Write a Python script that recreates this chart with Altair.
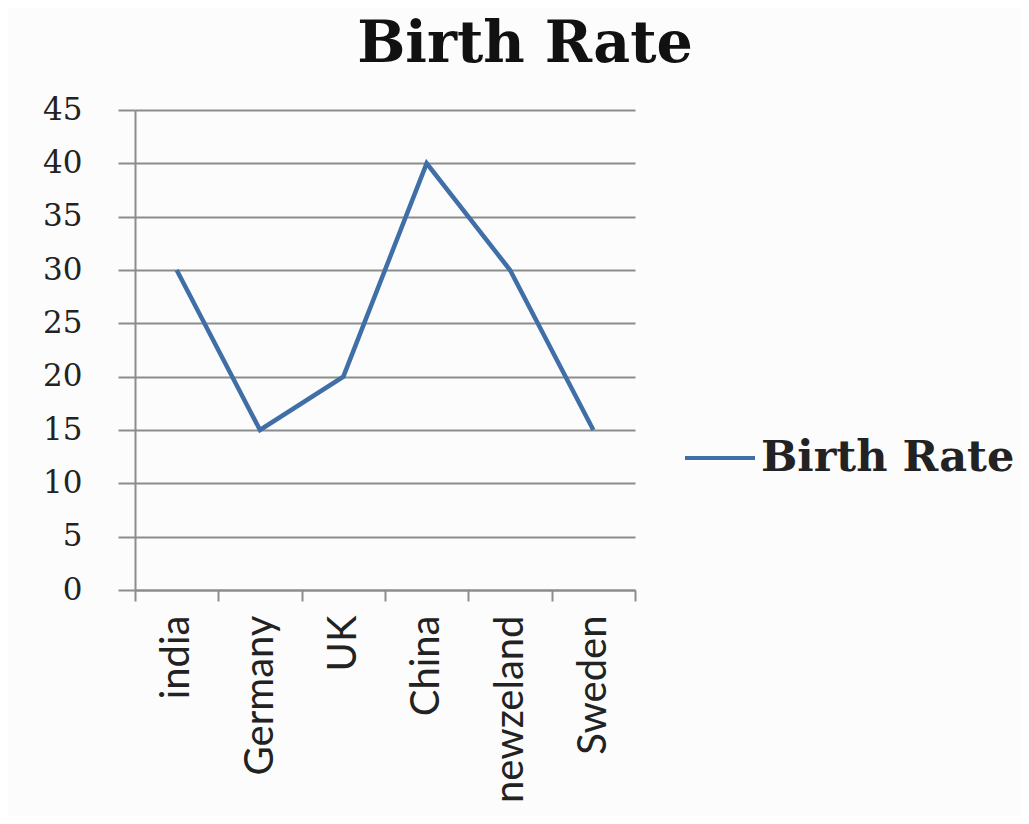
import altair as alt
import pandas as pd

countries = ["india", "Germany", "UK", "China", "newzeland", "Sweden"]
birth_rate = [30, 15, 20, 40, 30, 15]
series = ["Birth Rate"] * len(countries)
y_ticks = [0, 5, 10, 15, 20, 25, 30, 35, 40, 45]

df = pd.DataFrame({"country": countries, "rate": birth_rate, "series": series})

GRID = "#8c8c8c"

chart = (
    alt.Chart(df)
    .mark_line(strokeWidth=4.5)
    .encode(
        x=alt.X(
            "country:N",
            sort=countries,
            scale=alt.Scale(type="band", paddingInner=0, paddingOuter=0),
            bandPosition=0.5,
            axis=alt.Axis(
                title=None,
                labelAngle=-90,
                labelFont="Lato",
                labelFontSize=40,
                labelColor="#222222",
                labelPadding=14,
                labelLimit=400,
                tickBand="extent",
                tickSize=11,
                tickColor=GRID,
                tickWidth=2,
                domainColor=GRID,
                domainWidth=2,
                grid=False,
            ),
        ),
        y=alt.Y(
            "rate:Q",
            scale=alt.Scale(domain=[0, 45], nice=False),
            axis=alt.Axis(
                title=None,
                values=y_ticks,
                labelFont="DejaVu Serif",
                labelFontSize=31,
                labelColor="#222222",
                labelPadding=36,
                tickSize=17,
                tickColor=GRID,
                tickWidth=2,
                domainColor=GRID,
                domainWidth=2,
                gridColor=GRID,
                gridWidth=2,
                gridOpacity=1,
            ),
        ),
        color=alt.Color(
            "series:N",
            scale=alt.Scale(range=["#3f6fa6"]),
            legend=alt.Legend(
                title=None,
                orient="none",
                legendX=548,
                legendY=311,
                symbolType="stroke",
                symbolSize=4900,
                symbolStrokeWidth=4,
                labelFont="DejaVu Serif",
                labelFontWeight="bold",
                labelFontSize=43,
                labelColor="#222222",
                labelOffset=4,
                labelLimit=400,
            ),
        ),
    )
    .properties(
        width=500,
        height=480,
        background="#fcfcfc",
        padding={"left": 127, "top": 102, "right": 386, "bottom": 226},
        autosize=alt.AutoSizeParams(type="none"),
        title=alt.TitleParams(
            "Birth Rate",
            font="DejaVu Serif",
            fontWeight="bold",
            fontSize=57,
            color="#111111",
            anchor="middle",
            dx=140,
            offset=20,
        ),
    )
    .configure_view(stroke=None)
)

chart.save("out.html", embed_options={"renderer": "svg", "actions": False})
